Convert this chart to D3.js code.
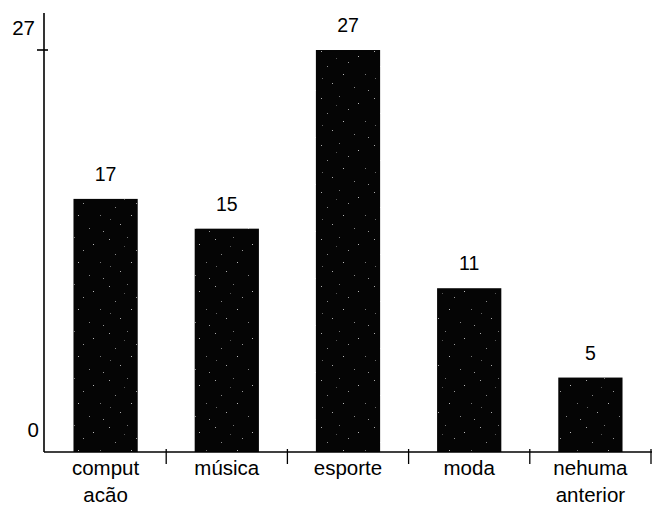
<!DOCTYPE html>
<html>
<head>
<meta charset="utf-8">
<script src="https://cdn.jsdelivr.net/npm/d3@7"></script>
<style>
  body { margin: 0; background: #fff; }
  svg { display: block; }
  text { font-family: "Liberation Sans", Arial, sans-serif; fill: #000; }
</style>
</head>
<body>
<div id="chart"></div>
<script>
const categories = [["comput", "acão"], ["música"], ["esporte"], ["moda"], ["nehuma", "anterior"]];
const values = [17, 15, 27, 11, 5];
const yTickValues = [0, 27];

const W = 652, H = 506;
const svg = d3.select("#chart").append("svg").attr("width", W).attr("height", H);

// speckle texture for bars
const defs = svg.append("defs");
const pat = defs.append("pattern").attr("id", "speck").attr("patternUnits", "userSpaceOnUse")
  .attr("width", 53).attr("height", 47);
pat.append("rect").attr("width", 53).attr("height", 47).attr("fill", "#050505");
const dots = [[3,4,"#aaa"],[21,2,"#777"],[40,9,"#bbb"],[9,19,"#888"],[30,15,"#999"],[47,27,"#777"],
  [14,36,"#aaa"],[36,40,"#888"],[4,31,"#666"],[25,27,"#bbb"],[50,43,"#999"],[18,11,"#555"]];
pat.selectAll("rect.d").data(dots).enter().append("rect").attr("class", "d")
  .attr("x", d => d[0]).attr("y", d => d[1]).attr("width", 1).attr("height", 1)
  .attr("fill", d => d[2]);

const x0 = 45, x1 = 651, yBase = 452;
const keys = categories.map(c => c.join(" "));
const x = d3.scaleBand().domain(keys).range([x0, x1]).paddingInner(0.47).paddingOuter(0.235);
const y = d3.scaleLinear().domain([0, 27]).range([yBase, 50]);

// bars
svg.selectAll("rect.bar").data(values).enter().append("rect").attr("class", "bar")
  .attr("x", (d, i) => x(keys[i]))
  .attr("width", x.bandwidth())
  .attr("y", d => y(d))
  .attr("height", d => yBase - y(d))
  .attr("fill", "url(#speck)");

// value labels
svg.selectAll("text.val").data(values).enter().append("text").attr("class", "val")
  .attr("x", (d, i) => x(keys[i]) + x.bandwidth() / 2)
  .attr("y", d => y(d) - 18)
  .attr("text-anchor", "middle")
  .attr("font-size", 19.5)
  .text(d => d);

// x axis
const xAxis = d3.axisBottom(x).tickSize(0).tickFormat("");
const gx = svg.append("g").attr("transform", `translate(0,${yBase})`).call(xAxis);
gx.select(".domain").attr("d", `M${x0 - 1},0H${W}`).attr("stroke", "#000").attr("stroke-width", 1.6);
const step = x.step();
const bounds = d3.range(1, categories.length + 1).map(i => x0 + i * step);
gx.selectAll("line.bt").data(bounds).enter().append("line").attr("class", "bt")
  .attr("x1", d => d).attr("x2", d => d).attr("y1", -3).attr("y2", 12)
  .attr("stroke", "#000").attr("stroke-width", 1.3);

// category labels
const lab = svg.selectAll("text.cat").data(categories).enter().append("text").attr("class", "cat")
  .attr("text-anchor", "middle").attr("font-size", 20.5);
lab.each(function (c, i) {
  const t = d3.select(this);
  c.forEach((line, j) => {
    t.append("tspan").attr("x", x(keys[i]) + x.bandwidth() / 2)
      .attr("y", yBase + 23 + j * 27).text(line);
  });
});

// y axis
const yAxis = d3.axisLeft(y).tickValues(yTickValues).tickSize(0).tickFormat("");
const gy = svg.append("g").attr("transform", `translate(${x0 - 1},0)`).call(yAxis);
gy.select(".domain").attr("d", `M0,13V${yBase}`).attr("stroke", "#000").attr("stroke-width", 1.6);
gy.append("line").attr("x1", -7).attr("x2", 4).attr("y1", y(27)).attr("y2", y(27))
  .attr("stroke", "#000").attr("stroke-width", 1.6);
svg.selectAll("text.yt").data(yTickValues).enter().append("text").attr("class", "yt")
  .attr("x", d => d === 0 ? 39 : 35)
  .attr("y", d => y(d) - 15)
  .attr("text-anchor", "end")
  .attr("font-size", 20.5)
  .text(d => d);
</script>
</body>
</html>
